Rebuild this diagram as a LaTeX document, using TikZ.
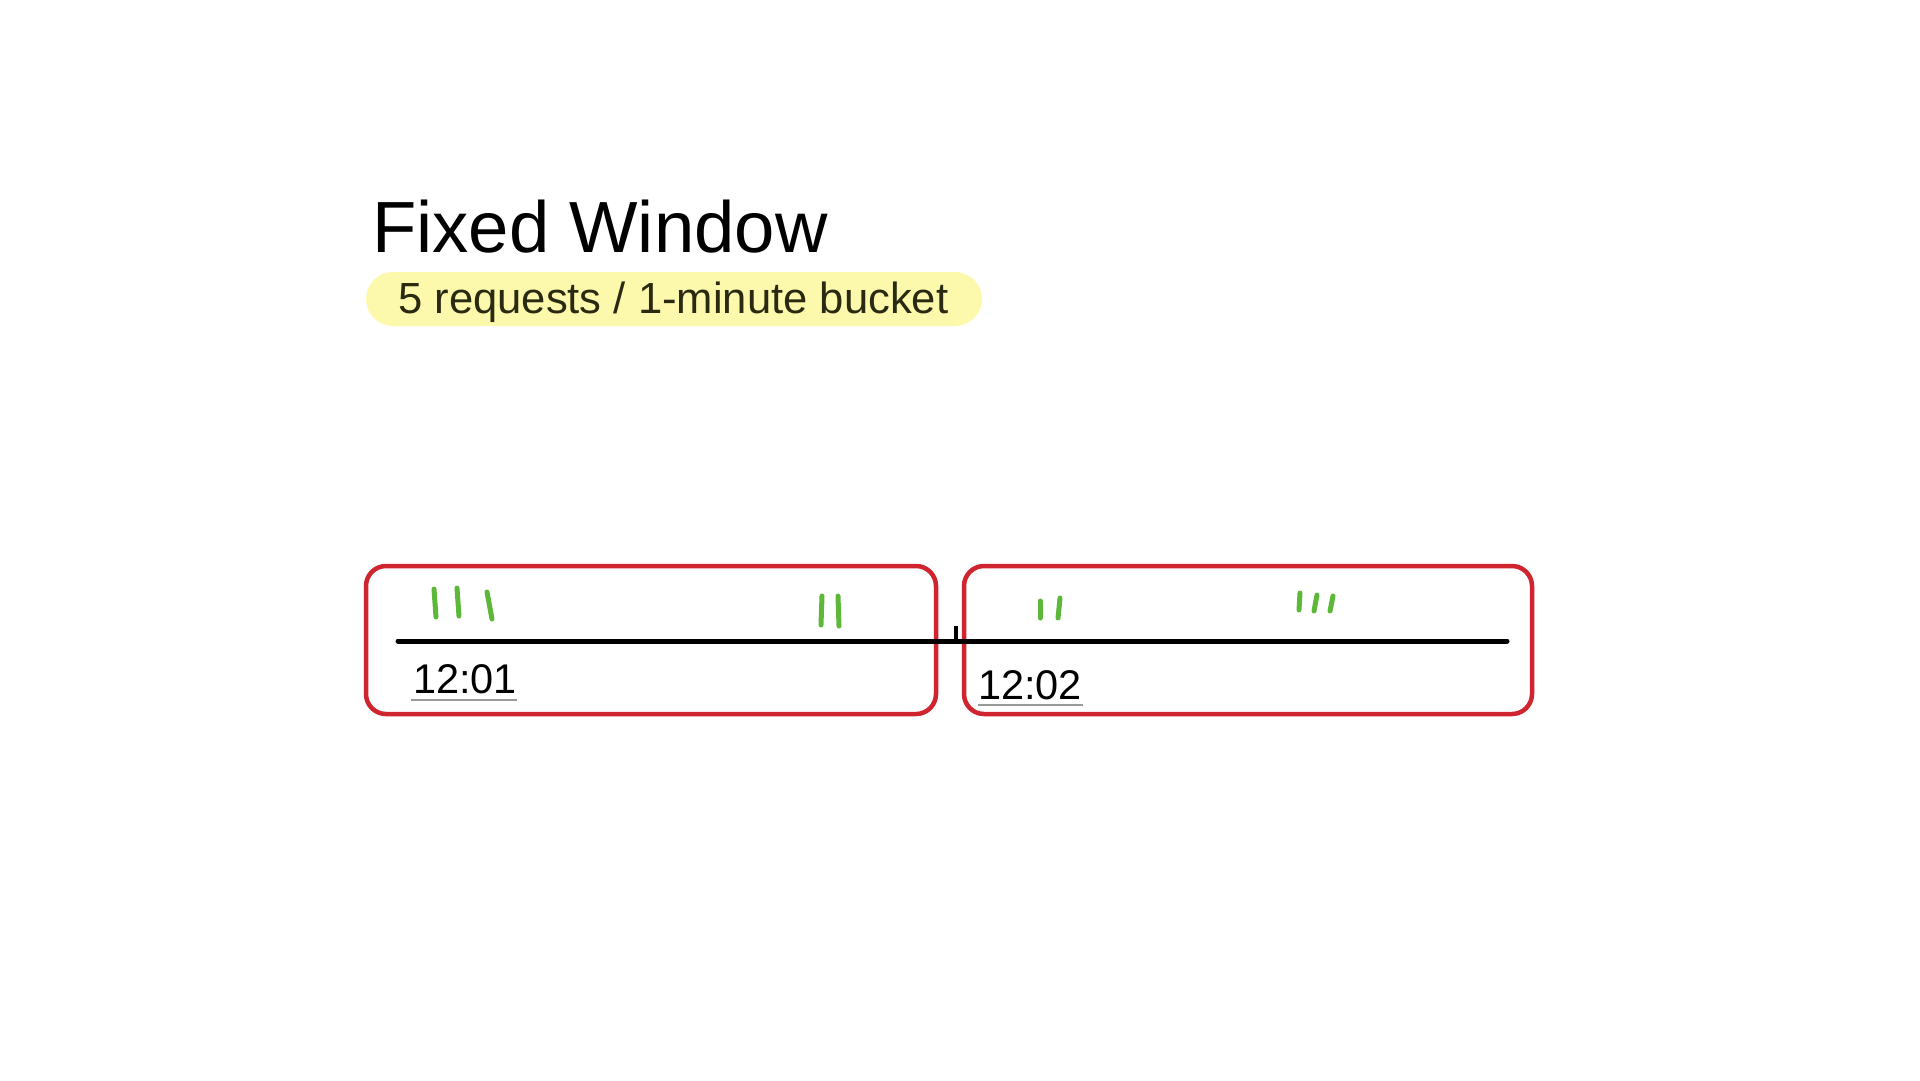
\documentclass[tikz,border=0pt]{standalone}
\usepackage{fontspec}
\setmainfont{Liberation Sans}
\begin{document}
\begin{tikzpicture}[x=1pt,y=-1pt,
  bucket/.style={draw=bred,line width=4.5pt,rounded corners=20pt},
  req/.style={draw=reqgreen,line width=5pt,line cap=round},
  axis/.style={draw=black,line width=5pt,line cap=round},
  timelabel/.style={anchor=base west,inner sep=0pt,font=\fontsize{41.5}{42}\selectfont},
  uline/.style={draw=gray!80,line width=1.5pt}]
\definecolor{bred}{HTML}{D0242F}
\definecolor{reqgreen}{HTML}{5DB83A}
\definecolor{hl}{HTML}{FCF9AC}
\definecolor{subtext}{HTML}{2A2A12}
\useasboundingbox[fill=white] (0,0) rectangle (1920,1080);
% highlight
\fill[hl,rounded corners=27pt] (366,272) rectangle (982,326);
\node[anchor=base west,inner sep=0pt,font=\fontsize{72.5}{72}\selectfont] (title) at (372,252) {Fixed Window};
\node[anchor=base west,inner sep=0pt,text=subtext,font=\fontsize{43.6}{44}\selectfont] (sub) at (398,313) {5 requests / 1-minute bucket};
% buckets
\draw[bucket] (366,566) rectangle (936,714);
\draw[bucket] (964,566) rectangle (1532,714);
% timeline
\coordinate (tl0) at (398,641);
\coordinate (tl1) at (1507,641);
\draw[axis] (tl0) -- (tl1);
\coordinate (tk0) at (956,626);
\coordinate (tk1) at (956,641);
\draw[black,line width=4pt] (tk0) -- (tk1);
% labels
\node[timelabel] (l1) at (413,693) {12:01};
\draw[uline] (411,700) -- (517,700);
\node[timelabel] (l2) at (978,699) {12:02};
\draw[uline] (978,705) -- (1083,705);
% requests bucket 1
\draw[req] (434,589) -- (436,617);
\draw[req] (457,588) -- (459,616);
\draw[req] (487,592) -- (492,619);
\draw[req] (822,596) -- (821,625);
\draw[req] (838,596) -- (839,626);
% requests bucket 2
\draw[req] (1040,601) -- (1040,618);
\draw[req] (1060,598) -- (1058,618);
\draw[req] (1300,593) -- (1299,610);
\draw[req] (1317,595) -- (1314,611);
\draw[req] (1333,596) -- (1330,611);
\end{tikzpicture}
\end{document}
